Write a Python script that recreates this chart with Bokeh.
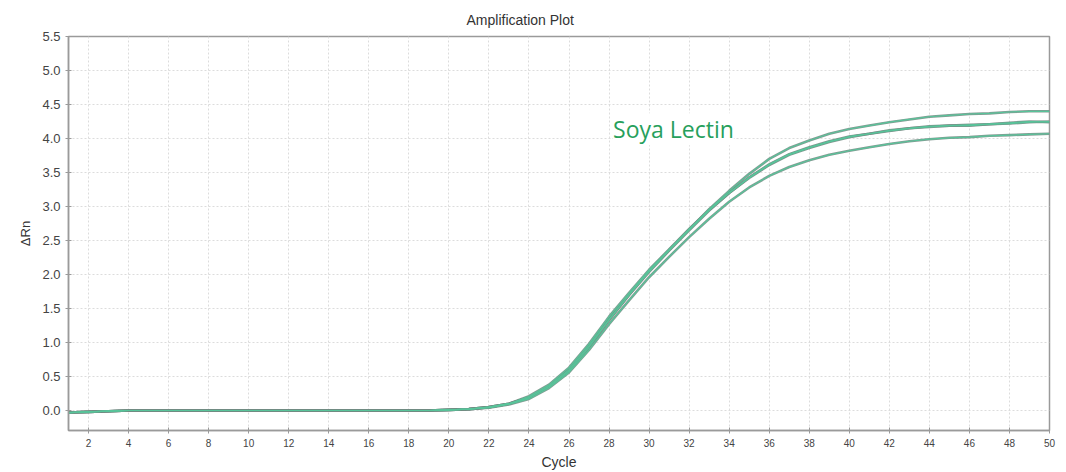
from bokeh.plotting import figure
from bokeh.models import Range1d, FixedTicker, Label, Title, NumeralTickFormatter
from bokeh.embed import file_html
from bokeh.resources import INLINE

cycles = list(range(1, 51))

base = [-0.03, -0.02, -0.01, 0.0] + [0.0] * 15  # cycles 1..19

curve_a = base + [0.01, 0.02, 0.05, 0.10, 0.19, 0.36, 0.60, 0.95, 1.34, 1.70,
                  2.05, 2.36, 2.66, 2.96, 3.23, 3.48, 3.70, 3.86, 3.97, 4.07,
                  4.14, 4.19, 4.24, 4.28, 4.32, 4.34, 4.36, 4.37, 4.39, 4.40, 4.40]
curve_b = base + [0.01, 0.02, 0.05, 0.10, 0.21, 0.38, 0.63, 0.98, 1.38, 1.73,
                  2.07, 2.37, 2.67, 2.95, 3.20, 3.42, 3.61, 3.76, 3.86, 3.95,
                  4.02, 4.07, 4.11, 4.15, 4.18, 4.19, 4.19, 4.21, 4.23, 4.25, 4.24]
curve_c = base + [0.01, 0.02, 0.05, 0.10, 0.19, 0.35, 0.58, 0.93, 1.33, 1.70,
                  2.04, 2.35, 2.65, 2.94, 3.20, 3.43, 3.62, 3.77, 3.87, 3.96,
                  4.03, 4.07, 4.12, 4.15, 4.17, 4.19, 4.20, 4.21, 4.22, 4.24, 4.25]
curve_d = base + [0.01, 0.02, 0.04, 0.09, 0.17, 0.33, 0.56, 0.89, 1.27, 1.62,
                  1.96, 2.26, 2.55, 2.82, 3.07, 3.28, 3.45, 3.58, 3.68, 3.76,
                  3.82, 3.87, 3.92, 3.96, 3.99, 4.01, 4.02, 4.04, 4.05, 4.06, 4.07]

series = [curve_a, curve_b, curve_c, curve_d]

x_ticks = list(range(2, 51, 2))
y_ticks = [0.0, 0.5, 1.0, 1.5, 2.0, 2.5, 3.0, 3.5, 4.0, 4.5, 5.0, 5.5]

p = figure(width=1066, height=472, output_backend="svg", toolbar_location=None,
           x_range=Range1d(1, 50), y_range=Range1d(-0.294, 5.5),
           min_border_left=68, min_border_right=17, min_border_bottom=42, min_border_top=36)

p.title = Title(text="Amplification Plot", align="left", offset=398, standoff=18,
                text_font="Liberation Sans", text_font_size="14px",
                text_font_style="normal", text_color="#333333")

p.outline_line_color = "#9a9a9a"
p.outline_line_width = 1.5
p.background_fill_color = "white"
p.border_fill_color = "white"

p.xgrid.ticker = FixedTicker(ticks=x_ticks)
p.ygrid.ticker = FixedTicker(ticks=y_ticks)
for g in (p.xgrid, p.ygrid):
    g.grid_line_color = "#dcdcdc"
    g.grid_line_dash = "2 2"
    g.grid_line_width = 1

p.xaxis.ticker = FixedTicker(ticks=x_ticks)
p.yaxis.ticker = FixedTicker(ticks=y_ticks)
p.yaxis.formatter = NumeralTickFormatter(format="0.0")

for ax in (p.xaxis[0], p.yaxis[0]):
    ax.axis_line_color = "#9a9a9a"
    ax.axis_line_width = 1.5
    ax.major_tick_line_color = "#9a9a9a"
    ax.major_tick_in = 3
    ax.major_tick_out = 3
    ax.minor_tick_line_color = None
    ax.major_label_text_font = "Liberation Sans"
    ax.major_label_text_color = "#444444"
    ax.axis_label_text_font = "Liberation Sans"
    ax.axis_label_text_font_style = "normal"
    ax.axis_label_text_color = "#333333"

p.xaxis.major_label_text_font_size = "10px"
p.yaxis.major_label_text_font_size = "13px"
p.xaxis.axis_label = "Cycle"
p.xaxis.axis_label_text_font_size = "14px"
p.xaxis.axis_label_standoff = 4
p.yaxis.axis_label = "ΔRn"
p.yaxis.axis_label_text_font_size = "13px"
p.yaxis.axis_label_standoff = 6

for s in series:
    p.line(cycles, s, line_color="#6e8a80", line_width=2.6, line_alpha=0.85)
for s in series:
    p.line(cycles, s, line_color="#58c49a", line_width=1.2)

lbl = Label(x=28.2, y=3.90, text="Soya Lectin", text_font="Open Sans",
            text_font_size="23px", text_color="#27a05c",
            background_fill_color="white", background_fill_alpha=1.0)
p.add_layout(lbl)

open("out.html", "w").write(file_html(p, INLINE))
